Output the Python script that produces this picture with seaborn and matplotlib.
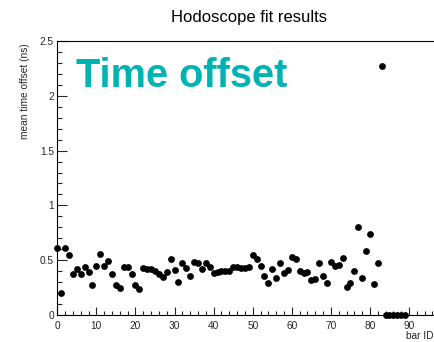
import numpy as np
import pandas as pd
import matplotlib
matplotlib.use("Agg")
import matplotlib.pyplot as plt
from matplotlib.ticker import MultipleLocator
import seaborn as sns

# Mean time offset per hodoscope bar (ns)
bar_id = list(range(90))
mean_offset = [
    0.61, 0.20, 0.61, 0.55, 0.37, 0.42, 0.37, 0.44, 0.39, 0.27,
    0.45, 0.56, 0.45, 0.49, 0.37, 0.27, 0.25, 0.44, 0.44, 0.37,
    0.27, 0.24, 0.43, 0.42, 0.42, 0.40, 0.37, 0.35, 0.39, 0.51,
    0.41, 0.30, 0.47, 0.43, 0.36, 0.48, 0.47, 0.42, 0.47, 0.44,
    0.38, 0.39, 0.40, 0.40, 0.40, 0.44, 0.44, 0.43, 0.43, 0.44,
    0.55, 0.51, 0.45, 0.36, 0.29, 0.42, 0.34, 0.47, 0.38, 0.41,
    0.53, 0.51, 0.40, 0.38, 0.39, 0.32, 0.33, 0.47, 0.36, 0.29,
    0.48, 0.45, 0.46, 0.52, 0.26, 0.29, 0.40, 0.80, 0.34, 0.58,
    0.74, 0.28, 0.47, 2.27, 0.00, 0.00, 0.00, 0.00, 0.00, 0.00,
]

title = "Hodoscope fit results"
x_title = "bar ID"
y_title = "mean time offset (ns)"
banner = "Time offset"

sns.set_style("ticks")
plt.rcParams["font.family"] = ["Liberation Sans", "DejaVu Sans"]

df = pd.DataFrame({"bar": bar_id, "offset": mean_offset})

W, H = 435, 342
fig = plt.figure(figsize=(W / 100, H / 100), dpi=100)
# frame extends slightly past the right edge of the canvas
ax = fig.add_axes([57.3 / W, (H - 315) / H, 383 / W, 274 / H])

sns.scatterplot(data=df, x="bar", y="offset", ax=ax, color="black",
                s=24, linewidth=0, clip_on=False, legend=False, zorder=3)

ax.set_xlim(0, 98)
ax.set_ylim(0, 2.5)
ax.xaxis.set_major_locator(MultipleLocator(10))
ax.xaxis.set_minor_locator(MultipleLocator(2))
ax.yaxis.set_major_locator(MultipleLocator(0.5))
ax.yaxis.set_minor_locator(MultipleLocator(0.1))
ax.yaxis.set_major_formatter(matplotlib.ticker.FuncFormatter(
    lambda v, p: f"{v:g}"))

for s in ax.spines.values():
    s.set_linewidth(0.8)
    s.set_color("black")

ax.tick_params(axis="x", which="major", direction="in", length=6, width=0.8,
               labelsize=7.3, pad=4)
ax.tick_params(axis="x", which="minor", direction="in", length=2.8, width=0.8)
ax.tick_params(axis="y", which="major", direction="in", length=7.3, width=0.8,
               labelsize=7.3, pad=2.5)
ax.tick_params(axis="y", which="minor", direction="in", length=3.8, width=0.8)

ax.set_xlabel(x_title, loc="right", fontsize=7.3)
ax.xaxis.set_label_coords(0.982, -0.058)
ax.set_ylabel(y_title, loc="top", fontsize=7.3)
ax.yaxis.set_label_coords(-0.072, 0.993)

fig.text(249 / W, 1 - 17.5 / H, title, ha="center", va="center",
         fontsize=12, color="black")
fig.text(76.5 / W, 1 - 87.5 / H, banner, ha="left", va="baseline",
         fontsize=28.6, fontweight="bold", color="#00b3b3")

fig.savefig("out.png", dpi=100)
